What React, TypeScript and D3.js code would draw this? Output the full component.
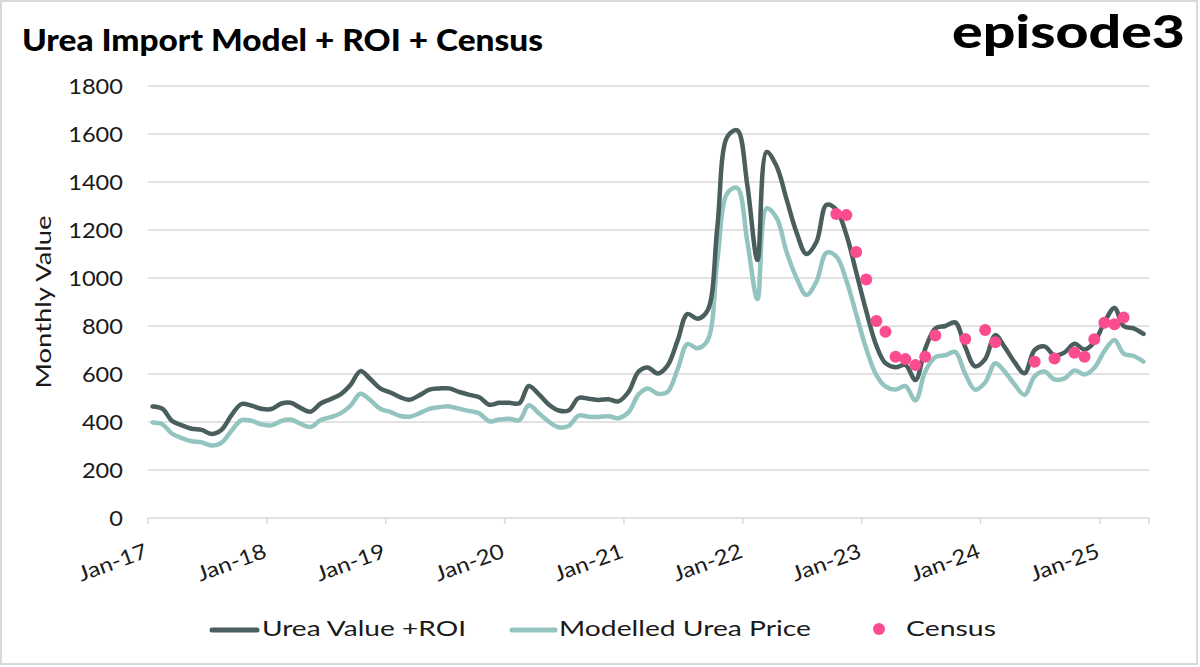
import React from "react";
import * as d3 from "d3";

// ---- Data (monthly, Jan-17 .. May-25) ----
const startYear = 2017;
const roiValues: number[] = [
  465, 455, 405, 386, 372, 367, 350, 368, 430, 475, 468, 455,
  454, 477, 480, 458, 443, 477, 495, 515, 555, 612, 578, 540,
  523, 503, 493, 512, 535, 540, 540, 525, 513, 503, 472, 480,
  480, 478, 550, 515, 473, 448, 448, 500, 497, 492, 495, 486,
  525, 610, 627, 602, 635, 740, 850, 830, 865, 1215, 1590, 1615,
  1385, 1075, 1525, 1465, 1330, 1190, 1100, 1150, 1305, 1285, 1180, 1025,
  862, 718, 645, 628, 638, 575, 705, 790, 800, 815, 712, 632,
  662, 762, 712, 648, 603, 700, 715, 678, 690, 726, 702, 732,
  815, 875, 800, 790, 767,
];
const modelValues: number[] = [
  398, 390, 352, 333, 320, 315, 302, 314, 365, 408, 405, 390,
  386, 405, 410, 392, 379, 408, 420, 436, 468, 518, 490, 455,
  442, 425, 422, 437, 455, 462, 465, 455, 446, 436, 403, 410,
  414, 408, 470, 436, 402, 378, 383, 427, 422, 421, 424, 416,
  440, 515, 540, 518, 525, 620, 725, 707, 740, 1075, 1355, 1375,
  1150, 912, 1290, 1250, 1110, 1000, 929, 985, 1105, 1090, 990, 850,
  705, 595, 548, 535, 550, 490, 610, 670, 678, 692, 600, 535,
  565, 645, 610, 555, 513, 590, 610, 577, 582, 615, 598, 625,
  695, 742, 685, 675, 652,
];
const censusMonths: string[] = [
  "2022-10", "2022-11", "2022-12", "2023-01", "2023-02", "2023-03", "2023-04",
  "2023-05", "2023-06", "2023-07", "2023-08", "2023-11", "2024-01", "2024-02",
  "2024-06", "2024-08", "2024-10", "2024-11", "2024-12", "2025-01", "2025-02", "2025-03",
];
const censusValues: number[] = [
  1267, 1262, 1108, 994, 821, 776, 672, 662, 637, 672, 760, 746, 783, 732,
  651, 665, 689, 672, 745, 814, 807, 835,
];
const yTicks: number[] = [0, 200, 400, 600, 800, 1000, 1200, 1400, 1600, 1800];
const xTickLabels: string[] = [
  "Jan-17", "Jan-18", "Jan-19", "Jan-20", "Jan-21", "Jan-22", "Jan-23", "Jan-24", "Jan-25",
];
const seriesNames = ["Urea Value +ROI", "Modelled Urea Price", "Census"];

const W = 1200;
const H = 667;
const FONT = "Lato, 'Noto Sans', sans-serif";
const DARK = "#4a5e5e";
const LIGHT = "#94c4c0";
const PINK = "#fb4c8f";
const GRID = "#d9d9d9";
const INK = "#1a1a1a";

export default function App() {
  const x = d3
    .scaleTime()
    .domain([new Date(2017, 0, 1), new Date(2025, 5, 1)])
    .range([148, 1149]);
  const y = d3.scaleLinear().domain([0, 1800]).range([518, 86]);

  const monthDate = (i: number) => new Date(startYear, i, 15);
  const line = d3
    .line<number>()
    .x((_, i) => x(monthDate(i)))
    .y((d) => y(d))
    .curve(d3.curveCatmullRom.alpha(0.5));

  const census = censusMonths.map((m, i) => {
    const [yy, mm] = m.split("-").map(Number);
    return { date: new Date(yy, mm - 1, 15), value: censusValues[i] };
  });

  const tickDates = xTickLabels.map((_, k) => new Date(startYear + k, 0, 1));

  return (
    <div style={{ position: "absolute", left: 0, top: 0 }}>
      <svg width={W} height={H} style={{ display: "block", fontFamily: FONT }}>
        <rect x={0} y={0} width={W} height={H} fill="#fff" />
        <rect x={1} y={1} width={1196} height={663} fill="none" stroke={GRID} strokeWidth={2} />

        <text x={22} y={51} fontSize={30} fontWeight={900} fill="#000" textLength={521} lengthAdjust="spacingAndGlyphs">
          Urea Import Model + ROI + Census
        </text>
        <text x={952} y={48} fontSize={46} fontWeight={900} fill="#000" textLength={233} lengthAdjust="spacingAndGlyphs">
          episode3
        </text>

        {/* gridlines */}
        {yTicks.map((t) => (
          <line key={t} x1={148} x2={1149} y1={y(t)} y2={y(t)} stroke={GRID} strokeWidth={1.5} />
        ))}
        {/* x ticks */}
        {tickDates.map((d, k) => (
          <line key={k} x1={x(d)} x2={x(d)} y1={518} y2={524} stroke={GRID} strokeWidth={1.5} />
        ))}
        <line x1={1149} x2={1149} y1={518} y2={524} stroke={GRID} strokeWidth={1.5} />

        {/* y labels */}
        {yTicks.map((t) => (
          <text
            key={t}
            x={123}
            y={y(t)}
            dy="0.36em"
            textAnchor="end"
            fontSize={22}
            fill={INK}
            textLength={String(t).length * 13.7}
            lengthAdjust="spacingAndGlyphs"
          >
            {t}
          </text>
        ))}
        <text
          transform={`translate(51, ${y(900)}) rotate(-90)`}
          textAnchor="middle"
          fontSize={22}
          fill={INK}
          textLength={173}
          lengthAdjust="spacingAndGlyphs"
        >
          Monthly Value
        </text>

        {/* x labels */}
        {tickDates.map((d, k) => (
          <text
            key={k}
            transform={`translate(${x(d) + 1}, 557) rotate(-20)`}
            textAnchor="end"
            fontSize={21}
            fill={INK}
            textLength={72}
            lengthAdjust="spacingAndGlyphs"
          >
            {xTickLabels[k]}
          </text>
        ))}

        {/* series */}
        <path d={line(modelValues) || ""} fill="none" stroke={LIGHT} strokeWidth={4.5} strokeLinejoin="round" strokeLinecap="round" />
        <path d={line(roiValues) || ""} fill="none" stroke={DARK} strokeWidth={4.5} strokeLinejoin="round" strokeLinecap="round" />
        {census.map((c, i) => (
          <circle key={i} cx={x(c.date)} cy={y(c.value)} r={6} fill={PINK} />
        ))}

        {/* legend */}
        <line x1={212} x2={257} y1={630} y2={630} stroke={DARK} strokeWidth={5} strokeLinecap="round" />
        <text x={262} y={636} fontSize={22} fill={INK} textLength={204} lengthAdjust="spacingAndGlyphs">{seriesNames[0]}</text>
        <line x1={512} x2={555} y1={630} y2={630} stroke={LIGHT} strokeWidth={5} strokeLinecap="round" />
        <text x={559} y={636} fontSize={22} fill={INK} textLength={252} lengthAdjust="spacingAndGlyphs">{seriesNames[1]}</text>
        <circle cx={879} cy={629} r={6} fill={PINK} />
        <text x={906} y={636} fontSize={22} fill={INK} textLength={90} lengthAdjust="spacingAndGlyphs">{seriesNames[2]}</text>
      </svg>
    </div>
  );
}
